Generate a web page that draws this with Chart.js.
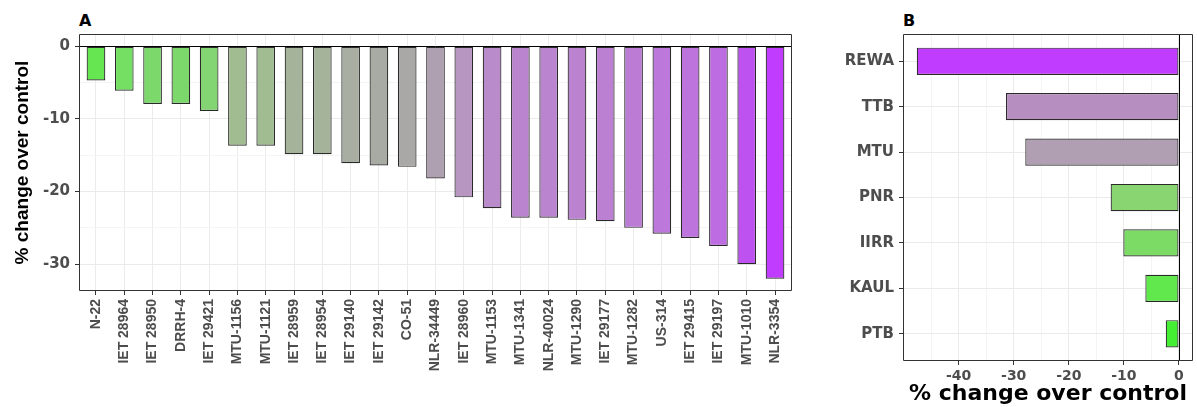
<!DOCTYPE html>
<html><head><meta charset="utf-8">
<script src="https://cdn.jsdelivr.net/npm/chart.js@4/dist/chart.umd.min.js"></script>
<style>
html,body{margin:0;padding:0;background:#fff;}
#wrap{position:relative;width:1197px;height:407px;overflow:hidden;background:#fff;}
.lab{position:absolute;top:13px;font:bold 16px/16px 'DejaVu Sans',sans-serif;color:#000;}
</style></head><body>
<div id="wrap">
<div class="lab" style="left:79px">A</div>
<div class="lab" style="left:903px">B</div>
<canvas id="ca" width="800" height="407" style="position:absolute;left:0;top:0"></canvas>
<canvas id="cb" width="397" height="407" style="position:absolute;left:800px;top:0"></canvas>
</div>
<script>
// ---------- data ----------
const categoriesA = ['N-22','IET 28964','IET 28950','DRRH-4','IET 29421','MTU-1156','MTU-1121','IET 28959','IET 28954','IET 29140','IET 29142','CO-51','NLR-34449','IET 28960','MTU-1153','MTU-1341','NLR-40024','MTU-1290','IET 29177','MTU-1282','US-314','IET 29415','IET 29197','MTU-1010','NLR-3354'];
const valuesA = [-4.7,-6.1,-7.95,-7.95,-8.9,-13.7,-13.7,-14.85,-14.85,-16.1,-16.4,-16.6,-18.2,-20.8,-22.3,-23.6,-23.6,-23.9,-24.1,-25.0,-25.8,-26.4,-27.5,-30.0,-32.0];
const yTicksA = [0,-10,-20,-30];
const yGridA = [0,-5,-10,-15,-20,-25,-30];

const categoriesB = ['REWA','TTB','MTU','PNR','IIRR','KAUL','PTB'];
const valuesB = [-47.6,-31.4,-27.9,-12.4,-10.1,-6.1,-2.4];
const xTicksB = [-40,-30,-20,-10,0];
const xGridB = [-45,-40,-35,-30,-25,-20,-15,-10,-5,0];

// ---------- styles ----------
const fillA = ['#66E650','#74DF62','#7DD86C','#7DD86C','#83D472','#A0BC90','#A0BC90','#A5B39A','#A5B39A','#A8AEA2','#A8AAA4','#A9A8A6','#AEA0B0','#B797C2','#B98BCA','#BA84CE','#BA84CE','#BB82D0','#BB80D2','#BC7CD6','#BC78DA','#BD74DC','#BD6CE2','#BE52F0','#C03DFF'];
const fillB = ['#C03DFF','#B68FC0','#B09FB2','#88D572','#7BDB65','#60E84C','#44EE33'];

function hasFont(name){
  const c=document.createElement('canvas').getContext('2d');
  const s='mmmmmwwwwwlllliiII 28964 %change';
  c.font='bold 40px monospace'; const a=c.measureText(s).width;
  c.font='bold 40px "'+name+'", monospace'; const b=c.measureText(s).width;
  return a!==b;
}
const narrow = hasFont('Liberation Sans Narrow');
const narrowFam = narrow ? "'Liberation Sans Narrow', 'Liberation Sans', Arial, sans-serif" : "'Liberation Sans', Arial, sans-serif";
const wideFam = "'DejaVu Sans', 'Liberation Sans', sans-serif";
const tickCol = '#4D4D4D';

const frame = {
  id:'frame',
  afterDraw(chart, args, opts){
    const {ctx, chartArea:a, scales} = chart;
    ctx.save();
    ctx.strokeStyle='#000'; ctx.lineWidth=1;
    ctx.beginPath();
    if(opts.zero==='y'){
      const y=Math.round(scales.y.getPixelForValue(0))+0.5;
      ctx.moveTo(a.left,y); ctx.lineTo(a.right,y);
    } else {
      const x=Math.round(scales.x.getPixelForValue(0))+0.5;
      ctx.moveTo(x,a.top); ctx.lineTo(x,a.bottom);
    }
    ctx.stroke();
    ctx.strokeStyle='#333';
    ctx.beginPath();
    ctx.rect(Math.round(a.left)+0.5, Math.round(a.top)+0.5, Math.round(a.right)-Math.round(a.left)-1, Math.round(a.bottom)-Math.round(a.top)-1);
    ctx.stroke();
    ctx.restore();
  }
};

const gridCol = c => (c.tick && c.tick.value%10===0) ? '#EBEBEB' : '#F4F4F4';
const tickMarkCol = c => (c.tick && c.tick.value%10===0) ? '#333' : 'rgba(0,0,0,0)';

new Chart(document.getElementById('ca'), {
  type:'bar',
  data:{datasets:[{
    data: valuesA.map((v,i)=>({x:i,y:v})),
    backgroundColor: fillA, borderColor:'#2a2a2a', borderWidth:1.2, borderSkipped:false,
    barPercentage:0.66, categoryPercentage:1
  }]},
  plugins:[frame],
  options:{
    responsive:false, animation:false, devicePixelRatio:1,
    layout:{padding:{top:34,right:8,left:0,bottom:0}},
    plugins:{legend:{display:false}, tooltip:{enabled:false}, frame:{zero:'y'}},
    scales:{
      x:{type:'linear', offset:false, min:-0.6, max:categoriesA.length-0.4,
        afterBuildTicks:s=>{s.ticks=categoriesA.map((c,i)=>({value:i}));},
        afterFit:s=>{s.height=116;},
        ticks:{autoSkip:false, minRotation:90, maxRotation:90, padding:4, color:tickCol,
          font:{family:narrowFam, weight:'bold', size: narrow?16:14},
          callback:v=>categoriesA[v]},
        grid:{offset:false, color:'#EBEBEB', tickColor:'#333', tickLength:4, lineWidth:1},
        border:{display:false}},
      y:{type:'linear', min:-33.7, max:1.7,
        afterBuildTicks:s=>{s.ticks=yGridA.map(v=>({value:v}));},
        afterFit:s=>{s.width=79;},
        ticks:{padding:5, color:tickCol, font:{family:wideFam, weight:'bold', size:15},
          callback:v=> yTicksA.includes(v) ? String(v) : ''},
        grid:{color:gridCol, tickColor:tickMarkCol, tickLength:4, lineWidth:1},
        border:{display:false},
        title:{display:true, text:'% change over control', color:'#000',
          font:{family:narrowFam, weight:'bold', size: narrow?23:19}, padding:{top:11,bottom:0}}}
    }
  }
});

new Chart(document.getElementById('cb'), {
  type:'bar',
  data:{datasets:[{
    data: valuesB.map((v,i)=>({x:v,y:i})),
    backgroundColor: fillB, borderColor:'#2a2a2a', borderWidth:1.2, borderSkipped:false,
    barPercentage:0.6, categoryPercentage:1
  }]},
  plugins:[frame],
  options:{
    indexAxis:'y',
    responsive:false, animation:false, devicePixelRatio:1,
    layout:{padding:{top:34,right:4,left:0,bottom:0}},
    plugins:{legend:{display:false}, tooltip:{enabled:false}, frame:{zero:'x'}},
    scales:{
      x:{type:'linear', min:-50.1, max:2.55,
        afterBuildTicks:s=>{s.ticks=xGridB.map(v=>({value:v}));},
        afterFit:s=>{s.height=46;},
        ticks:{padding:3, color:tickCol, font:{family:wideFam, weight:'bold', size:14}, maxRotation:0,
          callback:v=> xTicksB.includes(v) ? String(v) : ''},
        grid:{color:gridCol, tickColor:tickMarkCol, tickLength:4, lineWidth:1},
        border:{display:false},
        title:{display:true, text:'% change over control', color:'#000',
          font:{family:wideFam, weight:'bold', size:22, lineHeight:1}, padding:{top:0,bottom:2}}},
      y:{type:'linear', offset:false, reverse:true, min:-0.6, max:categoriesB.length-0.4,
        afterBuildTicks:s=>{s.ticks=categoriesB.map((c,i)=>({value:i}));},
        afterFit:s=>{s.width=103;},
        ticks:{padding:5, color:tickCol, font:{family:wideFam, weight:'bold', size:15}, autoSkip:false,
          callback:v=>categoriesB[v]},
        grid:{offset:false, color:'#EBEBEB', tickColor:'#333', tickLength:4, lineWidth:1},
        border:{display:false}}
    }
  }
});
</script>
</body></html>
